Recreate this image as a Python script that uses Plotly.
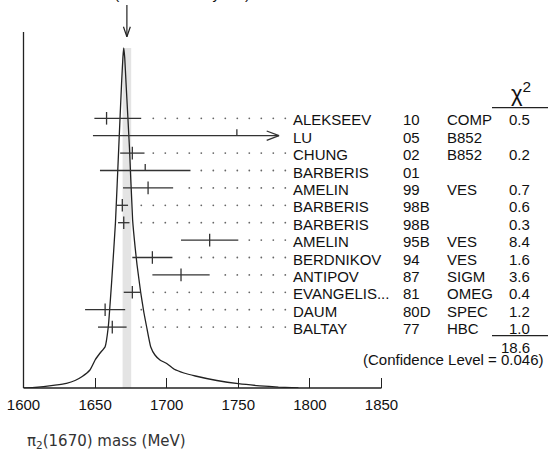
import plotly.graph_objects as go

# ────── data ──────
names = ["ALEKSEEV", "LU", "CHUNG", "BARBERIS", "AMELIN", "BARBERIS", "BARBERIS",
         "AMELIN", "BERDNIKOV", "ANTIPOV", "EVANGELIS...", "DAUM", "BALTAY"]
years = ["10", "05", "02", "01", "99", "98B", "98B", "95B", "94", "87", "81", "80D", "77"]
exps = ["COMP", "B852", "B852", "", "VES", "", "", "VES", "VES", "SIGM", "OMEG", "SPEC", "HBC"]
chi2 = ["0.5", "", "0.2", "", "0.7", "0.6", "0.3", "8.4", "1.6", "3.6", "0.4", "1.2", "1.0"]
mass = [1658, 1749, 1676, 1685, 1687, 1669, 1670, 1730, 1690, 1710, 1676, 1657, 1662]
err_minus = [8.5, 100.5, 8.5, 31.6, 17.5, 4, 4, 20, 14, 20, 6, 14, 10]
err_plus = [24.2, 100.5, 8.5, 31.6, 17.5, 4, 4, 20, 14, 20, 6, 14, 10]
chi2_total = "18.6"
conf_text = "(Confidence Level = 0.046)"
avg_mass, avg_err, err_scale = 1672.2, 3.0, 1.4

# ideogram outline (mass, height above baseline)
curve_mass = [1600, 1606, 1614, 1622, 1630, 1636, 1641, 1646.4, 1650, 1653.5, 1657,
              1659.2, 1661.5, 1664.2, 1666.5, 1668.5, 1669.4, 1670.0, 1670.7, 1671.6,
              1674.0, 1676.2, 1678, 1679.3, 1681.8, 1684, 1686, 1688.8, 1691.8, 1695.3,
              1700, 1705, 1712, 1720, 1735, 1750, 1765, 1778, 1792]
curve_h = [0, 0.3, 1.3, 2.8, 4.7, 7.5, 11.5, 18, 28, 35, 41.3,
           61, 105, 165, 240, 305, 330, 340, 330, 305,
           240, 168, 140, 123, 96, 76, 61, 41.3, 33, 28,
           24.5, 19, 15, 12, 7.5, 4.3, 2.2, 0.9, 0]
xticks = [1600, 1650, 1700, 1750, 1800, 1850]

# ────── geometry (pixels) ──────
W, H = 548, 449
PX = 1.432            # px per MeV
X0 = 23.5             # pixel of 1600 MeV
BASE = 388            # pixel row of the baseline
TOP = 32              # top of the frame line
ROW0, STEP = BASE - 118.3, 17.4
NAME_X, YEAR_X, EXP_X, CHI_X = 292.3, 401.7, 445.7, 532
CLIP_PX = 279         # where long bars stop (arrow tip)
INK = "#222222"
FONT = "Liberation Sans, Arial, sans-serif"

def to_mass(px):
    return 1600 + (px - X0) / PX

def to_px(m):
    return X0 + (m - 1600) * PX

fig = go.Figure()
shapes, annos = [], []

# weighted-average band
shapes.append(dict(type="rect", xref="x", yref="y", layer="below",
                   x0=avg_mass - avg_err, x1=avg_mass + avg_err, y0=0, y1=340,
                   fillcolor="#e4e4e4", line=dict(width=0)))

# ideogram curve
fig.add_trace(go.Scatter(x=curve_mass, y=curve_h, mode="lines",
                         line=dict(color=INK, width=1.3, shape="spline", smoothing=0.4),
                         hoverinfo="skip"))

# measurements
bx, by, tx, ty, dx, dy = [], [], [], [], [], []
for i, m in enumerate(mass):
    yy = ROW0 - i * STEP
    lo, hi = m - err_minus[i], m + err_plus[i]
    clip = to_mass(CLIP_PX)
    end = min(hi, clip)
    bx += [lo, end, None]
    by += [yy, yy, None]
    if hi > clip:   # open arrow head
        back = to_mass(CLIP_PX - 12.3)
        bx += [back, end, back, None]
        by += [yy + 4.7, yy, yy - 4.7, None]
    if chi2[i]:
        tx += [m, m, None]
        ty += [yy - 6.3, yy + 6.3, None]
    else:
        tx += [m, m, None]
        ty += [yy, yy + 6.5, None]
    if hi <= clip:
        px = 141.3 - 12 * 10
        while px <= 286:
            if px >= to_px(end) + 8:
                dx.append(to_mass(px))
                dy.append(yy)
            px += 12

fig.add_trace(go.Scatter(x=bx, y=by, mode="lines", line=dict(color="#333333", width=1.3),
                         hoverinfo="skip"))
fig.add_trace(go.Scatter(x=tx, y=ty, mode="lines", line=dict(color="#333333", width=1.3),
                         hoverinfo="skip"))
fig.add_trace(go.Scatter(x=dx, y=dy, mode="markers",
                         marker=dict(size=1.8, color="#666666", line=dict(width=0)),
                         hoverinfo="skip"))

# arrow marking the average
fig.add_trace(go.Scatter(x=[avg_mass, avg_mass, None, avg_mass - 2.4, avg_mass, avg_mass + 2.4],
                         y=[BASE - 5, BASE - 36.7, None, BASE - 26.7, BASE - 36.7, BASE - 26.7],
                         mode="lines", line=dict(color=INK, width=1.2), hoverinfo="skip"))

# frame: left line and baseline (paper refs so they are not clipped)
shapes.append(dict(type="line", xref="paper", yref="paper", x0=X0 / W, x1=X0 / W,
                   y0=0, y1=(BASE - TOP) / BASE, line=dict(color=INK, width=1.3)))
shapes.append(dict(type="line", xref="paper", yref="paper", x0=X0 / W, x1=to_px(1850) / W,
                   y0=0, y1=0, line=dict(color=INK, width=1.3)))

# table text
def txt(x, y, s, anchor="left", size=15, **kw):
    annos.append(dict(x=x / W, y=y, xref="paper", yref="y", text=s, showarrow=False,
                      xanchor=anchor, yanchor="middle",
                      font=dict(family=FONT, size=size, color="#111111"), **kw))

for i in range(len(names)):
    yy = ROW0 - i * STEP - 1.5
    txt(NAME_X - 1.5, yy, names[i])
    txt(YEAR_X - 1, yy, years[i])
    if exps[i]:
        txt(EXP_X - 1, yy, exps[i])
    if chi2[i]:
        txt(CHI_X, yy, chi2[i], anchor="right")

txt(CHI_X + 1, BASE - 92, "χ<sup>2</sup>", anchor="right", size=22)
txt(CHI_X, BASE - 347.7, chi2_total, anchor="right")
txt(546, BASE - 359.3, conf_text, anchor="right")
for yline in (BASE - 107.7, BASE - 335.7):
    shapes.append(dict(type="line", xref="paper", yref="y", x0=492 / W, x1=1,
                       y0=yline, y1=yline, line=dict(color=INK, width=1.2)))

# average text, mostly cut off by the top edge
annos.append(dict(x=33 / W, y=1, xref="paper", yref="paper", xanchor="left",
                  yanchor="bottom", yshift=-4, showarrow=False, align="left",
                  text=f"WEIGHTED AVERAGE<br>{avg_mass}±{avg_err} (Error scaled by {err_scale})",
                  font=dict(family=FONT, size=15, color="#111111")))

# x title
annos.append(dict(x=25 / W, y=-(441 - BASE) / BASE, xref="paper", yref="paper",
                  xanchor="left", yanchor="middle", showarrow=False,
                  text="π<sub>2</sub>(1670) mass (MeV)",
                  font=dict(family="DejaVu Sans", size=15, color="#333333")))

fig.update_xaxes(range=[to_mass(0), to_mass(W)], tickvals=xticks,
                 ticks="inside", ticklen=10, tickwidth=1.3, tickcolor=INK,
                 ticklabelstandoff=6,
                 showgrid=False, zeroline=False, showline=False,
                 tickfont=dict(family=FONT, size=15, color="#111111"))
fig.update_yaxes(range=[0, BASE], visible=False, showgrid=False, zeroline=False)

fig.update_layout(width=W, height=H, margin=dict(l=0, r=0, t=0, b=H - BASE),
                  paper_bgcolor="white", plot_bgcolor="white", showlegend=False,
                  shapes=shapes, annotations=annos)

fig.write_html("out.html", config={"displayModeBar": False},
               post_script="document.body.style.margin='0';")
